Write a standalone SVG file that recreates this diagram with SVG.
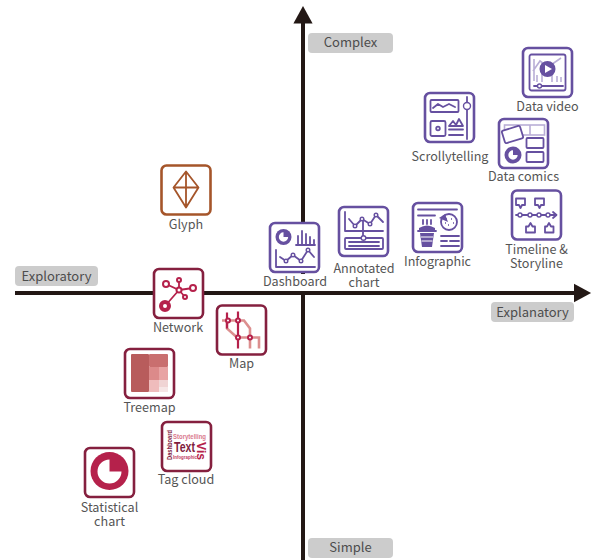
<svg xmlns="http://www.w3.org/2000/svg" width="593" height="560" viewBox="0 0 593 560">
<defs>
<style>
text{font-family:"Noto Sans CJK SC","Noto Sans",sans-serif;}
.lb{font-size:12.6px;fill:#555;text-anchor:middle;}
.ax{font-size:13px;fill:#4d4d4d;text-anchor:middle;}
.tag{fill:#cccccc;}
.box{fill:#fff;stroke-width:2.6;}
.p .box{stroke:#6650a0;}
.c .box{stroke:#85203f;}
.g .box{stroke:#a5552a;}
.p .s{fill:none;stroke:#6650a0;stroke-width:1.8;stroke-linecap:round;stroke-linejoin:round;}
.p .f{fill:#6650a0;}
.p .l{fill:none;stroke:#b9aed6;stroke-width:1.6;}
.p .d{fill:#fff;stroke:#6650a0;stroke-width:1.4;}
.c .f{fill:#b5214b;}
.c .s{fill:none;stroke:#b5214b;stroke-width:1.8;}
.c .d{fill:#fff;stroke:#b5214b;stroke-width:2;}
.m1{fill:none;stroke:#b5214b;stroke-width:2.2;}
.m2{fill:none;stroke:#dc8f8f;stroke-width:2.6;}
.tc{font-family:"Liberation Sans",Arial,sans-serif;font-weight:bold;}
</style>
<marker id="ah" markerWidth="5" markerHeight="5" refX="0.5" refY="2.5" orient="auto" markerUnits="strokeWidth"><path d="M0,0.1L4.4,2.5L0,4.9Z" fill="#231815"/></marker>
<path id="pie" d="M0,-8.5A8.5,8.5 0 1 0 8.500,0H0Z"/>
</defs>
<g id="connectors">
<line x1="15" y1="293" x2="575.500" y2="293" stroke="#231815" stroke-width="4" marker-end="url(#ah)"/>
<line x1="303" y1="560" x2="303" y2="21.500" stroke="#231815" stroke-width="4" marker-end="url(#ah)"/>
</g>
<g id="axis-complex"><rect class="tag" x="308" y="33" width="85" height="20" rx="4"/><text class="ax" x="350.500" y="47">Complex</text></g>
<g id="axis-simple"><rect class="tag" x="308" y="538" width="85" height="20" rx="4"/><text class="ax" x="350.500" y="552">Simple</text></g>
<g id="axis-exploratory"><rect class="tag" x="15" y="266" width="83" height="20" rx="4"/><text class="ax" x="56.500" y="281">Exploratory</text></g>
<g id="axis-explanatory"><rect class="tag" x="491" y="302" width="83" height="20" rx="4"/><text class="ax" x="532.500" y="317">Explanatory</text></g>

<g id="data-video" class="p" transform="translate(522,47)">
<rect class="box" x="1" y="1" width="49" height="49" rx="5"/>
<rect class="s" x="7.500" y="7.500" width="36" height="36" rx="2"/>
<path class="l" d="M12,12V34M11,24L18,14L26,20L39,11M15,35V28M20,35V26M30,35V27M35,35V29M39,35V30"/>
<circle class="f" cx="25.500" cy="22" r="8"/><path d="M23,18L30,22L23,26Z" fill="#fff"/>
<path class="s" d="M12,39H41"/><circle class="d" cx="17.500" cy="39" r="2"/>
<text class="lb" x="25.500" y="63.500">Data video</text></g>

<g id="scrollytelling" class="p" transform="translate(424,92)">
<rect class="box" x="1" y="1" width="49" height="49" rx="5"/>
<rect class="s" x="6.500" y="8" width="28" height="12" rx="1"/>
<path class="s" d="M9,16L14,12L19,15L25,12L31,15"/>
<path class="s" d="M43,5V47"/><circle class="d" cx="43" cy="14" r="3.500" stroke-width="2.200"/>
<rect class="s" x="6.500" y="29" width="15" height="15" rx="1.500"/><circle class="s" cx="14" cy="36.500" r="1.800"/>
<path class="s" d="M25,34L29,29L32,33L35,27L39,34Z"/><path class="s" d="M25,37.500H39M25,43H39"/>
<text class="lb" x="26" y="68.500">Scrollytelling</text></g>

<g id="data-comics" class="p" transform="translate(498,118)">
<rect class="box" x="1" y="1" width="49" height="49" rx="5"/>
<rect class="l" x="6.500" y="7" width="40" height="10"/><path class="l" d="M32,7V17"/>
<rect x="5" y="10" width="19" height="13" rx="1.500" transform="rotate(-17 14.500 16.500)" fill="#fff" stroke="#6650a0" stroke-width="1.800"/>
<g transform="translate(15,37)"><circle class="f" r="8.500"/><use href="#pie" transform="scale(.55)" fill="#fff"/></g>
<rect class="s" x="28.500" y="20" width="17" height="10" rx="1"/><rect class="s" x="28.500" y="34" width="17" height="10" rx="1"/>
<text class="lb" x="25.500" y="63">Data comics</text></g>

<g id="infographic" class="p" transform="translate(412,202)">
<rect class="box" x="1" y="1" width="49" height="49" rx="5"/>
<path class="s" d="M6,7.500H45M6,13.500H23"/>
<circle class="s" cx="37" cy="20" r="8"/><path class="f" d="M27,16L33,12L36,20Z"/><path d="M34,17h1M39,17h1M36,23h1M41,21h1M33,21h1" stroke="#6650a0" stroke-width="1.500"/>
<path class="s" d="M11,18V22M15,18V22M19,18V22M6,29H24"/>
<path class="f" d="M7,26Q15,21 23,26V29H7ZM8,31H22L20,45H10Z"/><path d="M9,35H21M9.500,39H20.500" stroke="#fff" stroke-width="1"/>
<path class="s" d="M29,34H47M29,39H35M38,39H47M29,44H47"/>
<text class="lb" x="25.500" y="64">Infographic</text></g>

<g id="timeline" class="p" transform="translate(511,189.500)">
<rect class="box" x="1" y="1" width="49" height="49" rx="5"/>
<path class="s" d="M5,9H14V15.500H11L9.500,18.500L8,15.500H5ZM24,9H33V15.500H30L28.500,18.500L27,15.500H24Z"/>
<path class="s" d="M5,25.500H45M42,22.500L45.500,25.500L42,28.500"/>
<circle class="d" cx="9" cy="25.500" r="2"/><circle class="d" cx="19" cy="25.500" r="2"/><circle class="d" cx="28" cy="25.500" r="2"/><circle class="d" cx="37" cy="25.500" r="2"/>
<path class="s" d="M15,43V37H17.500L19.500,33.500L21.500,37H24V43ZM34,43V37H36L38,33.500L40,37H42.500V43Z"/>
<text class="lb" x="25.500" y="64">Timeline &amp;</text><text class="lb" x="25.500" y="78">Storyline</text></g>

<g id="dashboard" class="p" transform="translate(269,222)">
<rect x="-6" y="52" width="64" height="17" fill="#fff"/>
<rect class="box" x="1" y="1" width="49" height="49" rx="5"/>
<g transform="translate(14.500,15)"><circle class="f" r="8"/><use href="#pie" transform="scale(.55)" fill="#fff"/></g>
<path class="s" d="M27,23H46M29,23V14M33,23V9M37,23V12M41,23V15M45,23V18"/>
<path class="s" d="M7,28V45H46M11,35L17,39L24,33L32,39L39,28L45,35"/>
<circle class="d" cx="17" cy="39" r="1.800"/><circle class="d" cx="24" cy="33" r="1.800"/><circle class="d" cx="32" cy="39" r="1.800"/><circle class="d" cx="39" cy="28" r="1.800"/>
<text class="lb" x="26" y="64">Dashboard</text></g>

<g id="annotated-chart" class="p" transform="translate(338,206)">
<rect class="box" x="1" y="1" width="49" height="49" rx="5"/>
<path class="s" d="M7,6V25H45M11,13L17,20L24,13L32,18L38,9L45,16M25,14V31"/>
<circle class="d" cx="17" cy="20" r="1.800"/><circle class="d" cx="24" cy="13" r="1.800"/><circle class="d" cx="32" cy="18" r="1.800"/><circle class="d" cx="38" cy="9" r="1.800"/>
<rect class="s" x="7" y="32" width="38" height="11" rx="1"/><path class="s" d="M11,36H41M11,40H41"/>
<circle class="d" cx="25.500" cy="32" r="2.300"/>
<text class="lb" x="26" y="67">Annotated</text><text class="lb" x="26" y="81">chart</text></g>

<g id="network" class="c" transform="translate(153,268)">
<rect class="box" x="1" y="1" width="49" height="49" rx="5"/>
<path class="s" d="M13,16L26,22L26,12M26,22L40,20M26,22L32,29M26,22L12,38"/>
<circle class="d" cx="13" cy="16" r="3"/><circle class="d" cx="26" cy="12" r="2"/><circle class="d" cx="40" cy="20" r="3"/><circle class="d" cx="32" cy="29" r="2"/><circle class="d" cx="26" cy="22" r="2.500"/><circle cx="12" cy="38" r="4" fill="#fff" stroke="#b5214b" stroke-width="4"/>
<text class="lb" x="25" y="64">Network</text></g>

<g id="map" class="c" transform="translate(216,304.500)">
<rect class="box" x="1" y="1" width="49" height="49" rx="5"/>
<path class="m2" d="M6,16H28L34,24V44M11,16V24L21,33H43V44"/>
<path class="m1" d="M11,8V24M22,7V44"/>
<circle class="d" cx="12" cy="16" r="2"/><circle class="d" cx="22" cy="16" r="2"/><circle class="d" cx="22" cy="33" r="2"/><circle class="d" cx="34" cy="33" r="2"/>
<text class="lb" x="25.500" y="63.500">Map</text></g>

<g id="treemap" class="c" transform="translate(124,348)">
<rect class="box" x="1" y="1" width="49" height="49" rx="5"/>
<rect x="7" y="6" width="18" height="38" fill="#b85c5c" rx="1"/>
<rect x="25" y="6" width="19" height="13" fill="#c96f6f" rx="1"/>
<rect x="25" y="19" width="10" height="13" fill="#dc8a8a"/>
<rect x="35" y="19" width="9" height="13" fill="#e8a3a3"/>
<rect x="25" y="32" width="10" height="12" fill="#efbcbc"/>
<rect x="35" y="32" width="9" height="7" fill="#f0d4d4"/>
<rect x="35" y="39" width="9" height="5" fill="#f6e6e6"/>
<text class="lb" x="25.500" y="64">Treemap</text></g>

<g id="tag-cloud" class="c" transform="translate(161,421)">
<rect class="box" x="1" y="1" width="49" height="49" rx="5"/>
<text class="tc" x="12" y="17.500" font-size="7.500" fill="#d9788e" textLength="33" lengthAdjust="spacingAndGlyphs">Storytelling</text>
<text class="tc" x="13" y="31" font-size="15" fill="#7f1d3f" textLength="21" lengthAdjust="spacingAndGlyphs">Text</text>
<text class="tc" x="12" y="38" font-size="5.500" fill="#c0395f" textLength="24" lengthAdjust="spacingAndGlyphs">Infographic</text>
<text class="tc" transform="translate(11,39) rotate(-90)" font-size="6.500" fill="#7f1d3f" textLength="30" lengthAdjust="spacingAndGlyphs">Dashboard</text>
<text class="tc" transform="translate(36,21) rotate(90)" font-size="13" fill="#b5214b" textLength="18" lengthAdjust="spacingAndGlyphs">Vis</text>
<text class="lb" x="25" y="63">Tag cloud</text></g>

<g id="statistical-chart" class="c" transform="translate(84,447)">
<rect class="box" x="1" y="1" width="49" height="49" rx="5"/>
<circle class="f" cx="25.500" cy="24" r="19"/>
<path d="M25.500,24.500V12.500A12,12 0 1 0 37.500,24.500Z" fill="#fff"/>
<text class="lb" x="25.500" y="65">Statistical</text><text class="lb" x="25.500" y="79">chart</text></g>

<g id="glyph" class="g" transform="translate(160.500,164.500)">
<rect class="box" x="1" y="1" width="49" height="49" rx="5"/>
<path d="M25.500,7L38,23L25.500,43L13,23ZM25.500,7V43M13,23H38" fill="none" stroke="#a5552a" stroke-width="1.800" stroke-linejoin="round"/>
<text class="lb" x="25.500" y="64.500">Glyph</text></g>
</svg>
